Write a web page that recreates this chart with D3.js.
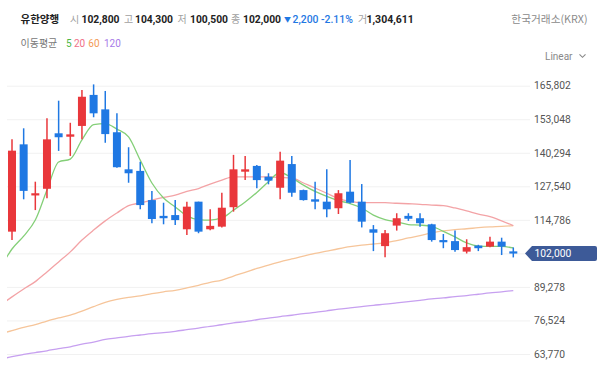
<!DOCTYPE html>
<html><head><meta charset="utf-8">
<script src="https://cdn.jsdelivr.net/npm/d3@7"></script>
<style>
body{margin:0;background:#fff;}
svg{display:block;font-family:"Noto Sans CJK KR","Noto Sans",sans-serif;}
.num{font-family:Roboto,"Noto Sans",sans-serif;}
</style>
</head><body><svg width="600" height="369"></svg>
<script>
// ---- data (daily candles, oldest -> newest) ----
const openVals  = [110300,143500,124100,126600,147700,146400,150500,162300,156800,148100,134000,133400,122300,116300,116600,111200,121700,111200,112200,119600,133100,135300,131200,127000,136000,126100,122600,121700,119200,125500,121700,111200,104800,112600,116300,115400,113100,107100,106700,102700,105000,104600,106500,102800];
const highVals  = [145400,149600,129300,153400,160100,151700,164200,166300,163800,155300,142400,136900,125800,121300,122300,121700,121700,118800,125100,139500,139100,135600,132500,140700,139100,126300,129300,134000,126100,137500,128400,112800,110900,117300,117300,117300,113300,109400,110700,107400,105300,108400,108000,104300];
const lowVals   = [107100,122600,118500,123000,141000,139100,145400,153800,144100,134600,128900,118800,113500,113100,112800,109000,109700,110800,111900,117900,129900,126800,128300,122600,123600,122100,118800,115800,117000,121000,111900,102900,100600,110700,114400,112200,106500,104000,102700,102000,102900,104400,101400,100500];
const closeVals = [141100,125800,124900,145400,146200,147300,161600,155300,147400,134800,132500,120400,115100,115400,114700,119800,110300,112500,119400,134000,134000,129900,129700,137300,125100,122300,121700,118800,124900,121300,114100,109900,109700,115400,115200,113500,107100,106400,103300,104400,104000,106500,104600,102000];
// moving averages: first value belongs to the day before the first visible candle
const ma5   = [96500,103700,108600,114700,126100,136800,137900,145200,151000,151400,149300,146300,137500,128800,123100,119700,116300,114900,114700,115500,118500,121600,125200,129300,132800,130700,128000,125600,123700,122100,121000,119300,116600,114900,114000,113000,112800,112300,110400,108300,106000,104800,104700,104700,104100];
const ma20  = [82400,85500,88500,91300,95000,98800,102600,107100,110900,114400,117400,120200,121200,122300,123300,124200,125600,126700,128400,129900,131100,131100,131100,131100,130900,130700,128800,126900,124900,122900,121800,121300,121300,121300,121100,120900,120700,120400,120200,119300,118200,117000,116000,114400,112600];
const ma60  = [71400,72700,73900,74900,76300,77500,78600,80100,81800,83400,84500,85300,85900,86700,87400,88000,88900,89900,91000,91900,93400,94800,96300,97600,98800,99900,101000,102000,102900,103800,104600,105200,105600,106000,106900,107900,108800,109800,110600,111100,111400,111800,112100,112300,112600];
const ma120 = [61700,62800,63600,64300,65000,65800,66500,67500,68300,69300,69900,70500,71000,71500,71900,72400,73000,73600,74300,74900,75600,76100,76800,77400,78000,78500,79100,79600,80200,80800,81300,81800,82300,82700,83200,83700,84200,84700,85100,85600,86000,86500,87000,87400,87900];
const tickValues = [63770,76524,89278,102032,114786,127540,140294,153048,165802];
const lastPrice = 102000;
const stockName = "유한양행";
const quoteLabels = ["시","고","저","종"];
const quoteValues = ["102,800","104,300","100,500","102,000"];
const changeText = "2,200 -2.11%";
const volumeLabel = "거";
const volumeText = "1,304,611";
const exchangeText = "한국거래소(KRX)";
const maLabel = "이동평균";
const maPeriods = ["5","20","60","120"];

// ---- styles ----
const UP = "#e9373b", DOWN = "#1f78e3";
const maColors = ["#84cf78","#f3a3a6","#f6c59a","#c7a0f0"];
const maTextColors = ["#4cb848","#f07088","#f39a55","#a77ae8"];

const svg = d3.select("svg");
const n = openVals.length;
const x = d3.scaleLinear().domain([0, n-1]).range([12, 513.3]);
const y = d3.scaleLinear().domain([63770,165802]).range([354,85.7]);

// ---- grid + y axis ----
const axis = d3.axisRight(y).tickValues(tickValues).tickSize(-523).tickPadding(4).tickFormat(d3.format(","));
const gAxis = svg.append("g").attr("transform","translate(530,0)").call(axis);
gAxis.select(".domain").remove();
gAxis.selectAll(".tick line").attr("stroke","#f1f1f1");
gAxis.selectAll(".tick text").attr("fill","#555").attr("font-size","10.3px")
  .attr("font-family","Roboto,'Noto Sans',sans-serif");
gAxis.selectAll(".tick").filter(d=>d===102032).select("text").remove();

// ---- clip ----
svg.append("clipPath").attr("id","plot").append("rect").attr("x",7).attr("y",62).attr("width",523).attr("height",307);
const plot = svg.append("g").attr("clip-path","url(#plot)");

// ---- moving averages ----
const maSeries = [ma120, ma60, ma20, ma5];
const maCol = [maColors[3], maColors[2], maColors[1], maColors[0]];
const line = d3.line().x((d,i)=>x(i-1)).y(d=>y(d)).curve(d3.curveMonotoneX);
maSeries.forEach((s,k)=>{
  plot.append("path").attr("d", line(s)).attr("fill","none")
    .attr("stroke", maCol[k]).attr("stroke-width",1.3);
});

// ---- candles ----
const candles = d3.range(n).map(i=>({i,o:openVals[i],h:highVals[i],l:lowVals[i],c:closeVals[i]}));
const cg = plot.append("g").selectAll("g").data(candles).join("g");
cg.append("line")
  .attr("x1",d=>x(d.i)).attr("x2",d=>x(d.i))
  .attr("y1",d=>y(d.h)).attr("y2",d=>y(d.l))
  .attr("stroke",d=>d.c>=d.o?UP:DOWN).attr("stroke-width",1.5);
cg.append("rect")
  .attr("x",d=>x(d.i)-4).attr("width",8)
  .attr("y",d=>y(Math.max(d.o,d.c)))
  .attr("height",d=>Math.max(2.2, Math.abs(y(d.o)-y(d.c))))
  .attr("fill",d=>d.c>=d.o?UP:DOWN);

// ---- last price tag ----
const yc = y(lastPrice);
svg.append("path")
  .attr("d",`M525,${yc} L532,${yc-7.5} L595,${yc-7.5} Q597,${yc-7.5} 597,${yc-5.5} L597,${yc+5.5} Q597,${yc+7.5} 595,${yc+7.5} L532,${yc+7.5} Z`)
  .attr("fill","#3d5a98");
svg.append("text").attr("class","num").attr("x",534.5).attr("y",yc+3.8).attr("fill","#fff").attr("font-size","10.3px")
  .text(d3.format(",")(lastPrice));

// ---- header ----
const hy = 23;
svg.append("text").attr("x",20.5).attr("y",hy).attr("font-size","10.5px").attr("font-weight",700).attr("fill","#222").text(stockName);
const labelX = [70,124,177.5,231];
const valueX = [81.5,135,190,243];
quoteLabels.forEach((t,k)=>{
  svg.append("text").attr("x",labelX[k]).attr("y",hy).attr("font-size","10px").attr("fill","#a0a0a0").text(t);
  svg.append("text").attr("class","num").attr("x",valueX[k]).attr("y",hy).attr("font-size","10.3px").attr("font-weight",700).attr("fill","#222").text(quoteValues[k]);
});
svg.append("text").attr("x",284).attr("y",hy-1).attr("font-size","7px").attr("fill",DOWN).text("▼");
svg.append("text").attr("class","num").attr("x",292.5).attr("y",hy).attr("font-size","10.4px").attr("font-weight",500).attr("fill",DOWN).text(changeText);
svg.append("text").attr("x",358).attr("y",hy).attr("font-size","10px").attr("fill","#a0a0a0").text(volumeLabel);
svg.append("text").attr("class","num").attr("x",366.5).attr("y",hy).attr("font-size","10.5px").attr("font-weight",700).attr("fill","#222").text(volumeText);
svg.append("text").attr("x",587.5).attr("y",hy).attr("text-anchor","end").attr("font-size","10.7px").attr("fill","#8a8a8a").text(exchangeText);

// legend line
const ly = 47;
svg.append("text").attr("x",20.5).attr("y",ly).attr("font-size","10px").attr("fill","#777").text(maLabel);
const maLegendX = [66,74,88.3,104];
maPeriods.forEach((t,k)=>{
  svg.append("text").attr("class","num").attr("x",maLegendX[k]).attr("y",ly).attr("font-size","10px").attr("fill",maTextColors[k]).text(t);
});

// scale selector
svg.append("text").attr("class","num").attr("x",545).attr("y",60).attr("font-size","10px").attr("fill","#888").text("Linear");
svg.append("path").attr("d","M579.5,54.3 L582.5,57.3 L585.5,54.3").attr("fill","none").attr("stroke","#888").attr("stroke-width",1.1);
</script>
</body></html>
